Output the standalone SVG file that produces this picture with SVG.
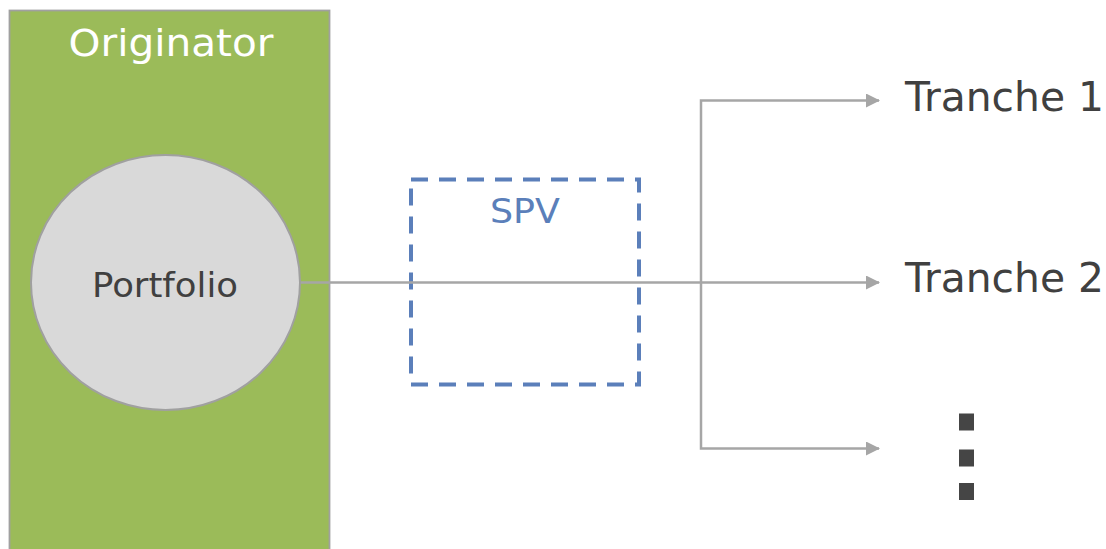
<svg xmlns="http://www.w3.org/2000/svg" width="1106" height="549" viewBox="0 0 1106 549">
  <style>
    .lbl { font-family: "DejaVu Sans", Verdana, sans-serif; }
    .conn { fill: none; stroke: #A6A6A6; stroke-width: 2.5; }
    .dot { fill: #454545; }
  </style>
  <defs>
    <marker id="arrow" viewBox="0 0 14 14" refX="13" refY="7" markerWidth="14" markerHeight="14" markerUnits="userSpaceOnUse" orient="auto">
      <path d="M0,0 L14,7 L0,14 Z" fill="#A6A6A6"/>
    </marker>
  </defs>
  <rect width="1106" height="549" fill="#FFFFFF"/>

  <!-- Originator column -->
  <g id="originator">
    <rect x="9.5" y="10.5" width="320" height="545" fill="#9BBB59" stroke="#A0A0A0" stroke-width="1.8"/>
    <text class="lbl" x="171" y="56" font-size="38" fill="#FFFFFF" text-anchor="middle" textLength="205" lengthAdjust="spacingAndGlyphs">Originator</text>
  </g>

  <!-- SPV dashed box -->
  <g id="spv">
    <rect x="411" y="179.5" width="228" height="205" fill="none" stroke="#5B7FBA" stroke-width="4" stroke-dasharray="17 11"/>
    <text class="lbl" x="525" y="223" font-size="33" fill="#5B7FBA" text-anchor="middle" textLength="70" lengthAdjust="spacingAndGlyphs">SPV</text>
  </g>

  <!-- Connectors -->
  <g id="connectors">
    <path class="conn" d="M300,282.5 H879" marker-end="url(#arrow)"/>
    <path class="conn" d="M701,282.5 V100.5 H879" marker-end="url(#arrow)"/>
    <path class="conn" d="M701,282.5 V448.5 H879" marker-end="url(#arrow)"/>
  </g>

  <!-- Portfolio circle -->
  <g id="portfolio">
    <ellipse cx="165.5" cy="282.5" rx="134.5" ry="127.5" fill="#D9D9D9" stroke="#A0A0A0" stroke-width="2"/>
    <text class="lbl" x="165" y="296.5" font-size="34.5" fill="#404040" text-anchor="middle" textLength="146" lengthAdjust="spacingAndGlyphs">Portfolio</text>
  </g>

  <!-- Tranches -->
  <g id="tranche1">
    <text class="lbl" x="905" y="110.7" font-size="41.5" fill="#404040" textLength="199" lengthAdjust="spacingAndGlyphs">Tranche 1</text>
  </g>
  <g id="tranche2">
    <text class="lbl" x="905" y="291.5" font-size="41.5" fill="#404040" textLength="199" lengthAdjust="spacingAndGlyphs">Tranche 2</text>
  </g>
  <g id="more">
    <rect class="dot" x="959" y="413.5" width="15" height="17"/>
    <rect class="dot" x="959" y="449.5" width="15" height="17"/>
    <rect class="dot" x="959" y="483" width="15" height="17"/>
  </g>
</svg>
